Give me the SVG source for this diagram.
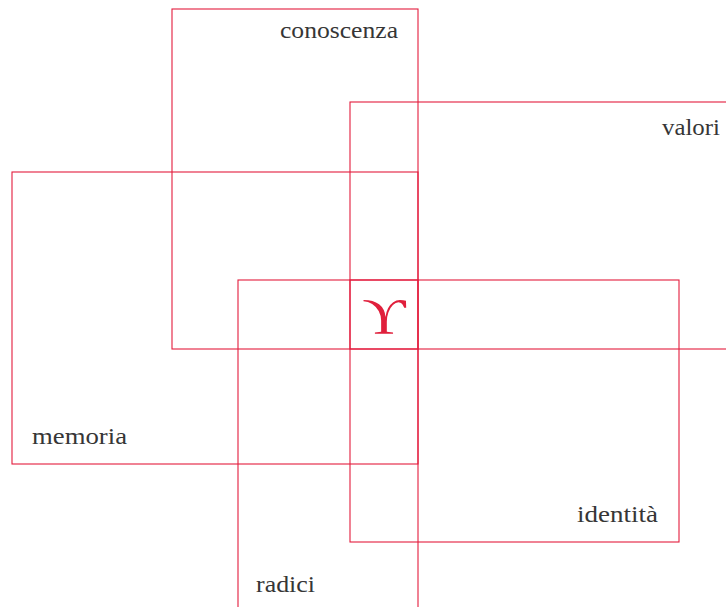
<svg xmlns="http://www.w3.org/2000/svg" width="726" height="607" viewBox="0 0 726 607">
<style>
.box{fill:none;stroke:#e31c3d;stroke-width:1.1}
.lbl{font-family:"Liberation Serif","Times New Roman",serif;font-size:23px;fill:#363636}
.sym{font-family:"Liberation Serif","Times New Roman",serif;font-size:50px;fill:#e0203c}
</style>
<rect width="726" height="607" fill="#ffffff"/>
<g id="conoscenza"><rect class="box" x="172" y="9" width="246" height="340"/><text class="lbl" x="280" y="38" textLength="118" lengthAdjust="spacingAndGlyphs">conoscenza</text></g>
<g id="valori"><rect class="box" x="350" y="102" width="400" height="247"/><text class="lbl" x="662" y="135" textLength="58" lengthAdjust="spacingAndGlyphs">valori</text></g>
<g id="memoria"><rect class="box" x="12" y="172" width="406" height="292"/><text class="lbl" x="32" y="444" textLength="95" lengthAdjust="spacingAndGlyphs">memoria</text></g>
<g id="radici"><rect class="box" x="238" y="280" width="180" height="360"/><text class="lbl" x="256" y="592" textLength="59" lengthAdjust="spacingAndGlyphs">radici</text></g>
<g id="identita"><rect class="box" x="350" y="280" width="329" height="262"/><text class="lbl" x="577" y="522" textLength="81" lengthAdjust="spacingAndGlyphs">identità</text></g>
<g id="centro"><text class="sym" x="0" y="0" text-anchor="middle" transform="translate(384,333) scale(1.2,1)">ϒ</text></g>
<g id="connectors"></g>
</svg>
